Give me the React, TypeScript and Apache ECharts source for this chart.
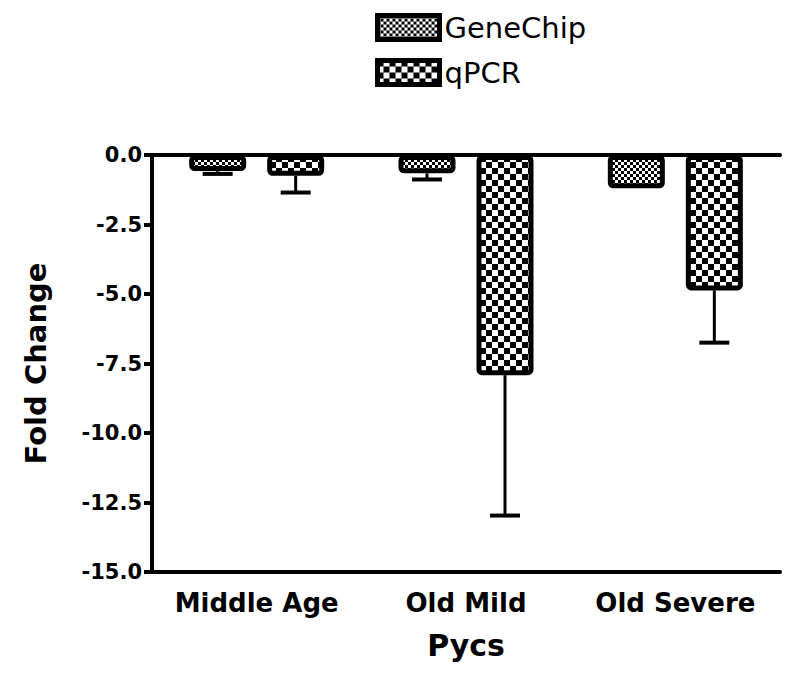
import React, { useEffect, useRef } from "react";
import * as echarts from "echarts";

const categories = ["Middle Age", "Old Mild", "Old Severe"];
const seriesNames = ["GeneChip", "qPCR"];
const geneChipValues = [-0.58, -0.66, -1.2];
const geneChipErrors = [0.1, 0.22, 0];
const qpcrValues = [-0.75, -7.92, -4.87];
const qpcrErrors = [0.6, 5.05, 1.88];
const yTicks = [0, -2.5, -5, -7.5, -10, -12.5, -15];

function makeChecker(cell: number): HTMLCanvasElement {
  const c = document.createElement("canvas");
  c.width = cell * 2;
  c.height = cell * 2;
  const ctx = c.getContext("2d")!;
  ctx.fillStyle = "#fff";
  ctx.fillRect(0, 0, cell * 2, cell * 2);
  ctx.fillStyle = "#000";
  ctx.fillRect(0, 0, cell, cell);
  ctx.fillRect(cell, cell, cell, cell);
  return c;
}

export default function App() {
  const ref = useRef<HTMLDivElement>(null);
  useEffect(() => {
    if (!ref.current) return;
    const chart = echarts.init(ref.current, undefined, { renderer: "svg" });
    const fine = makeChecker(3);
    const coarse = makeChecker(6);
    const barWidth = 57;
    const gapPx = 21;
    const half = (barWidth + gapPx) / 2;
    const errSeries = (values: number[], errs: number[], offset: number, name: string) => ({
      type: "custom",
      name: name + "_err",
      xAxisIndex: 0,
      yAxisIndex: 0,
      z: 1,
      data: values.map((v, i) => [i, v, errs[i]]),
      renderItem: (params: any, api: any) => {
        const v = api.value(1);
        const e = api.value(2);
        if (!e) return { type: "group", children: [] };
        const x = api.coord([api.value(0), 0])[0] + offset;
        const yTop = api.coord([api.value(0), v])[1];
        const yBot = api.coord([api.value(0), v - e])[1];
        return {
          type: "group",
          children: [
            { type: "line", shape: { x1: x, y1: yTop, x2: x, y2: yBot }, style: { stroke: "#000", lineWidth: 3 } },
            { type: "line", shape: { x1: x - 15, y1: yBot, x2: x + 15, y2: yBot }, style: { stroke: "#000", lineWidth: 4 } },
          ],
        };
      },
    });
    chart.setOption({
      animation: false,
      backgroundColor: "#fff",
      grid: { left: 152, right: 20, top: 155, bottom: 117 },
      legend: {
        orient: "vertical",
        left: 370,
        top: 8,
        icon: "rect",
        itemWidth: 62,
        itemHeight: 24,
        itemGap: 16,
        data: seriesNames,
        itemStyle: { borderColor: "#000", borderWidth: 5 },
        textStyle: { fontFamily: "DejaVu Sans", fontSize: 29, color: "#000" },
      },
      xAxis: [
        {
          type: "category",
          data: categories,
          position: "bottom",
          name: "Pycs",
          nameLocation: "middle",
          nameGap: 58,
          nameTextStyle: { fontFamily: "DejaVu Sans", fontWeight: "bold", fontSize: 30, color: "#000" },
          axisLine: { onZero: false, lineStyle: { color: "#000", width: 4 } },
          axisTick: { alignWithLabel: true, length: 8, lineStyle: { color: "#000", width: 3 } },
          axisLabel: { interval: 0, margin: 18, fontFamily: "DejaVu Sans", fontWeight: "bold", fontSize: 26, color: "#000" },
        },
        {
          type: "category",
          data: categories,
          position: "top",
          axisLine: { onZero: false, lineStyle: { color: "#000", width: 4 } },
          axisTick: { show: false },
          axisLabel: { show: false },
        },
      ],
      yAxis: {
        type: "value",
        min: -15,
        max: 0,
        interval: 2.5,
        name: "Fold Change",
        nameLocation: "middle",
        nameRotate: 90,
        nameGap: 102,
        nameTextStyle: { fontFamily: "DejaVu Sans", fontWeight: "bold", fontSize: 29, color: "#000" },
        splitLine: { show: false },
        axisLine: { show: true, lineStyle: { color: "#000", width: 4 } },
        axisTick: { show: true, length: 8, lineStyle: { color: "#000", width: 4 } },
        axisLabel: {
          margin: 10,
          fontFamily: "DejaVu Sans",
          fontWeight: "bold",
          fontSize: 21,
          color: "#000",
          formatter: (v: number) => (yTicks.includes(v) ? v.toFixed(1) : ""),
        },
      },
      series: [
        {
          type: "bar",
          name: seriesNames[0],
          data: geneChipValues,
          barWidth,
          barGap: (gapPx / barWidth) * 100 + "%",
          z: 2,
          itemStyle: {
            color: { image: fine, repeat: "repeat" },
            borderColor: "#000",
            borderWidth: 5,
            borderRadius: 3,
          },
        },
        {
          type: "bar",
          name: seriesNames[1],
          data: qpcrValues,
          barWidth,
          z: 2,
          itemStyle: {
            color: { image: coarse, repeat: "repeat" },
            borderColor: "#000",
            borderWidth: 5,
            borderRadius: 3,
          },
        },
        errSeries(geneChipValues, geneChipErrors, -half, seriesNames[0]),
        errSeries(qpcrValues, qpcrErrors, half, seriesNames[1]),
      ],
    });
    return () => chart.dispose();
  }, []);
  return <div ref={ref} style={{ width: 800, height: 689, position: "absolute", left: 0, top: 0 }} />;
}
